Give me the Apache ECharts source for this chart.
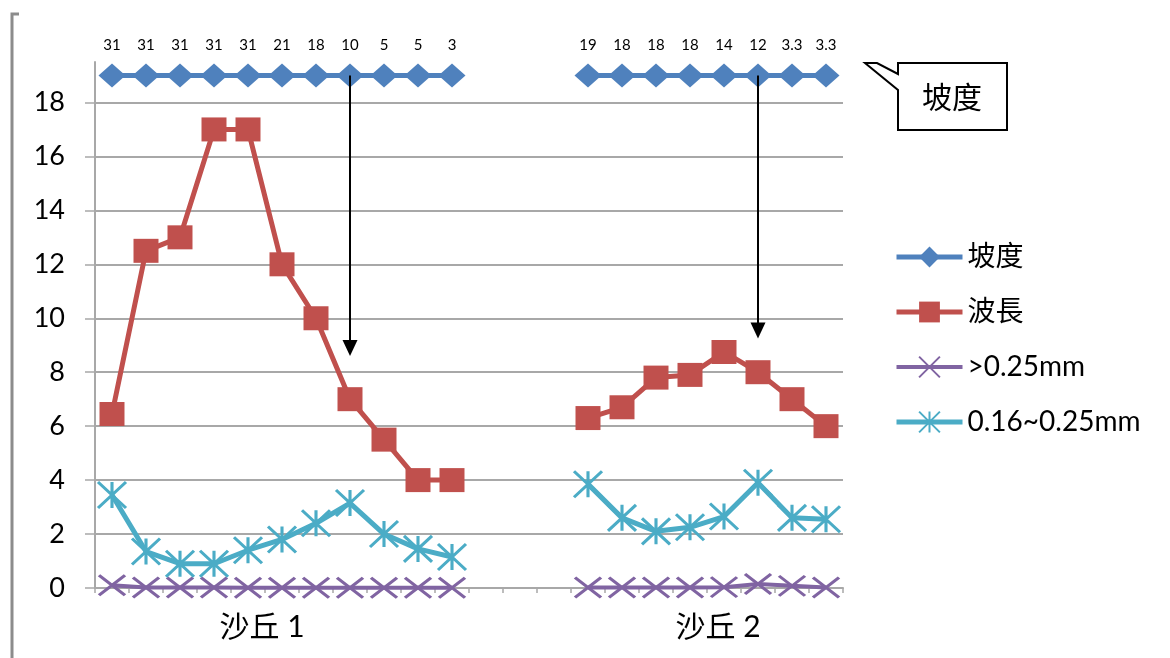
<!DOCTYPE html>
<html>
<head>
<meta charset="utf-8">
<script src="https://cdn.jsdelivr.net/npm/echarts@6/dist/echarts.min.js"></script>
<style>
  html, body { margin: 0; padding: 0; background: #fff; }
  #chart { width: 1170px; height: 658px; }
</style>
</head>
<body>
<div id="chart"></div>
<script>
// Dune survey: slope, wavelength and sand fractions along two dunes
const groupNames = ['沙丘 1', '沙丘 2'];
const seriesNames = ['坡度', '波長', '>0.25mm', '0.16~0.25mm'];

// slope readings (shown as labels along the top track)
const dune1Slope = [31, 31, 31, 31, 31, 21, 18, 10, 5, 5, 3];
const dune2Slope = [19, 18, 18, 18, 14, 12, 3.3, 3.3];
// height of the slope track on the value axis
const dune1Track = [19, 19, 19, 19, 19, 19, 19, 19, 19, 19, 19];
const dune2Track = [19, 19, 19, 19, 19, 19, 19, 19];

// wavelength
const dune1Wave = [6.45, 12.5, 13, 17, 17, 12, 10, 7, 5.5, 4, 4];
const dune2Wave = [6.3, 6.7, 7.8, 7.9, 8.75, 8.0, 7.0, 6.0];

// >0.25mm fraction
const dune1Coarse = [0.1, 0.02, 0.02, 0.02, 0.01, 0.01, 0.01, 0.01, 0.01, 0.01, 0.01];
const dune2Coarse = [0.02, 0.02, 0.02, 0.02, 0.03, 0.15, 0.08, 0.02];

// 0.16~0.25mm fraction
const dune1Medium = [3.45, 1.35, 0.9, 0.9, 1.4, 1.8, 2.4, 3.15, 2.0, 1.45, 1.15];
const dune2Medium = [3.85, 2.6, 2.1, 2.25, 2.65, 3.9, 2.6, 2.55];

// empty slots separating the two dunes on the category axis
const gapSlots = 3;

// value-axis ticks
const yMin = 0, yMax = 19.5, yStep = 2;

// arrows dropped from the slope track: category index and end value
const arrowMarks = [{ at: 7, to: 8.9 }, { at: 19, to: 9.55 }];

const gap = new Array(gapSlots).fill('-');
const join = (a, b) => a.concat(gap, b);

const categories = [];
dune1Slope.forEach((_, i) => categories.push('A' + (i + 1)));
gap.forEach((_, i) => categories.push('G' + (i + 1)));
dune2Slope.forEach((_, i) => categories.push('B' + (i + 1)));

const slopeLabels = join(dune1Slope, dune2Slope);

const FONT = 'Lato, "Noto Sans CJK TC", "Noto Sans CJK SC", sans-serif';
const GRID = '#a8a8a8';
const COLORS = ['#4f81bd', '#c0504d', '#8064a2', '#4bacc6'];
const LINE_W = [5, 5, 4, 5];

const chart = echarts.init(document.getElementById('chart'), null, { renderer: 'canvas' });

chart.setOption({
  animation: false,
  backgroundColor: '#ffffff',
  textStyle: { fontFamily: FONT, color: '#000' },
  grid: { left: 95, right: 327, top: 62, bottom: 70, outerBoundsMode: 'none', containLabel: false },
  legend: {
    orient: 'vertical',
    left: 889,
    top: 238,
    itemWidth: 66,
    itemHeight: 26,
    itemGap: 27,
    selectedMode: false,
    data: seriesNames.map((n, i) => ({ name: n, lineStyle: { width: LINE_W[i], color: COLORS[i] } })),
    textStyle: { fontSize: 28, fontFamily: FONT, color: '#000' }
  },
  xAxis: {
    type: 'category',
    data: categories,
    boundaryGap: true,
    axisLine: { show: true, lineStyle: { color: GRID, width: 2 } },
    axisTick: { show: true, interval: 0, length: 5, lineStyle: { color: GRID, width: 1.5 } },
    axisLabel: { show: false },
    splitLine: { show: false }
  },
  yAxis: {
    type: 'value',
    min: yMin,
    max: yMax,
    interval: yStep,
    axisLine: { show: true, lineStyle: { color: GRID, width: 2 } },
    axisTick: { show: true, length: 10, lineStyle: { color: GRID, width: 1.5 } },
    axisLabel: { margin: 30, fontSize: 27, fontFamily: FONT, color: '#000', showMaxLabel: false },
    splitLine: { show: true, showMaxLine: false, lineStyle: { color: GRID, width: 2 } }
  },
  series: [
    {
      name: seriesNames[0],
      type: 'line',
      data: join(dune1Track, dune2Track),
      color: COLORS[0],
      showAllSymbol: true,
      symbol: 'diamond',
      symbolSize: [27, 24],
      lineStyle: { color: COLORS[0], width: LINE_W[0] },
      itemStyle: { color: COLORS[0], borderWidth: 0 },
      z: 3,
      label: {
        show: true,
        position: 'top',
        distance: 11,
        fontSize: 15,
        fontFamily: FONT,
        color: '#000',
        formatter: p => String(slopeLabels[p.dataIndex])
      },
      markLine: {
        silent: true,
        animation: false,
        symbol: ['none', 'triangle'],
        symbolSize: [15, 16],
        label: { show: false },
        lineStyle: { color: '#000', width: 2, type: 'solid' },
        emphasis: { disabled: true },
        data: arrowMarks.map(m => [
          { coord: [m.at, dune1Track[0]] },
          { coord: [m.at, m.to] }
        ])
      }
    },
    {
      name: seriesNames[1],
      type: 'line',
      data: join(dune1Wave, dune2Wave),
      color: COLORS[1],
      showAllSymbol: true,
      symbol: 'rect',
      symbolSize: [25, 24],
      lineStyle: { color: COLORS[1], width: LINE_W[1] },
      itemStyle: { color: COLORS[1], borderWidth: 0 },
      z: 3
    },
    {
      name: seriesNames[2],
      type: 'line',
      data: join(dune1Coarse, dune2Coarse),
      color: COLORS[2],
      showAllSymbol: true,
      symbol: 'path://M0,0L26,20M0,20L26,0',
      symbolSize: [26, 20],
      lineStyle: { color: COLORS[2], width: LINE_W[2] },
      itemStyle: { color: COLORS[2], borderColor: COLORS[2], borderWidth: 3 },
      z: 3
    },
    {
      name: seriesNames[3],
      type: 'line',
      data: join(dune1Medium, dune2Medium),
      color: COLORS[3],
      showAllSymbol: true,
      symbol: 'path://M0,0L28,26M0,26L28,0M14,0L14,26',
      symbolSize: [28, 26],
      lineStyle: { color: COLORS[3], width: LINE_W[3] },
      itemStyle: { color: COLORS[3], borderColor: COLORS[3], borderWidth: 3 },
      z: 3
    }
  ],
  graphic: [
    // chart frame edge on the left
    {
      type: 'polyline',
      shape: { points: [[19, 14], [12, 14], [12, 658]] },
      style: { stroke: '#8c8c8c', lineWidth: 3, fill: null },
      silent: true
    },
    // callout naming the top track
    {
      type: 'polygon',
      shape: {
        points: [[865, 63], [877, 63], [898, 74], [898, 63], [1007, 63], [1007, 130], [898, 130], [898, 90]]
      },
      style: { stroke: '#000', lineWidth: 2, fill: '#fff' },
      silent: true,
      z: 10
    },
    {
      type: 'text',
      x: 952,
      y: 97,
      style: {
        text: '坡度',
        fontSize: 30,
        fontFamily: '"Noto Sans CJK TC", sans-serif',
        fill: '#000',
        align: 'center',
        verticalAlign: 'middle'
      },
      silent: true,
      z: 11
    },
    // group names under the category axis
    {
      type: 'text',
      x: 262,
      y: 627,
      style: {
        text: groupNames[0],
        fontSize: 30,
        fontFamily: FONT,
        fill: '#000',
        align: 'center',
        verticalAlign: 'middle'
      },
      silent: true
    },
    {
      type: 'text',
      x: 718,
      y: 627,
      style: {
        text: groupNames[1],
        fontSize: 30,
        fontFamily: FONT,
        fill: '#000',
        align: 'center',
        verticalAlign: 'middle'
      },
      silent: true
    }
  ]
});
</script>
</body>
</html>
